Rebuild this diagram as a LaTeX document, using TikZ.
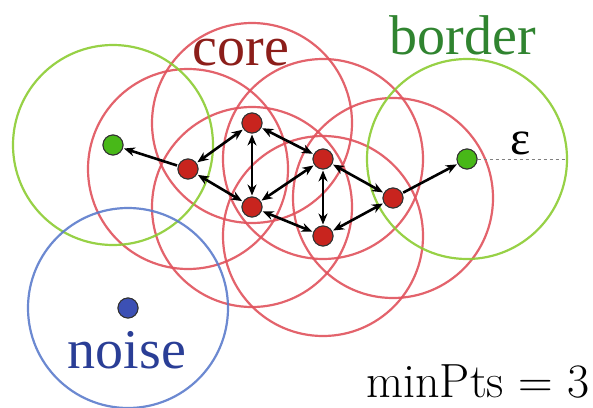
\documentclass[tikz,border=0pt]{standalone}
\usepackage{fontspec}
\newfontfamily\timesfont{Liberation Serif}
\usetikzlibrary{positioning,arrows.meta}
\definecolor{ringred}{RGB}{224,82,92}
\definecolor{ringgreen}{RGB}{140,204,50}
\definecolor{ringblue}{RGB}{92,124,204}
\definecolor{corered}{RGB}{200,36,30}
\definecolor{bordergreen}{RGB}{72,184,24}
\definecolor{noiseblue}{RGB}{60,80,180}
\definecolor{coretext}{RGB}{140,30,26}
\definecolor{bordertext}{RGB}{48,132,48}
\definecolor{noisetext}{RGB}{42,62,150}
\tikzset{
  corept/.style={circle, draw=black!80, line width=1pt, fill=corered, minimum size=20pt, inner sep=0pt},
  borderpt/.style={circle, draw=black!80, line width=1pt, fill=bordergreen, minimum size=20pt, inner sep=0pt},
  noisept/.style={circle, draw=black!80, line width=1pt, fill=noiseblue, minimum size=20pt, inner sep=0pt},
  ring/.style={line width=2.2pt, draw opacity=0.9},
  reach/.style={{Stealth[length=11pt,width=9pt]}-{Stealth[length=11pt,width=9pt]}, line width=2.6pt, shorten <=1pt, shorten >=1pt},
  reachone/.style={-{Stealth[length=11pt,width=9pt]}, line width=2.6pt, shorten <=1pt, shorten >=1pt},
  bigword/.style={font=\timesfont\fontsize{56}{56}\selectfont, anchor=base, inner sep=0pt}
}
\begin{document}
\begin{tikzpicture}[x=1pt, y=-1pt]
  \useasboundingbox (0,0) rectangle (593,407);
  % points
  \node[borderpt] (bl) at (113,145) {};
  \node[corept] (ca) at (188,169) {};
  \node[corept] (cb) at (252,123) {};
  \node[corept] (cc) at (252,207) {};
  \node[corept] (cd) at (323,159) {};
  \node[corept] (ce) at (323,236) {};
  \node[corept] (cf) at (393,198) {};
  \node[borderpt] (br) at (467,159) {};
  \node[noisept] (nz) at (128,308) {};
  \coordinate (epsend) at (567,159);
  % eps-neighbourhoods
  \foreach \p in {ca,cb,cc,cd,ce,cf}
    \draw[ring, ringred] (\p) circle[radius=100pt];
  \draw[ring, ringgreen] (bl) circle[radius=100pt];
  \draw[ring, ringgreen] (br) circle[radius=100pt];
  \draw[ring, ringblue] (nz) circle[radius=100pt];
  \draw[dashed, gray, line width=1pt] (br) -- (epsend);
  % reachability
  \draw[reachone] (ca) -- (bl);
  \draw[reach] (ca) -- (cb);
  \draw[reach] (ca) -- (cc);
  \draw[reach] (cb) -- (cc);
  \draw[reach] (cb) -- (cd);
  \draw[reach] (cc) -- (cd);
  \draw[reach] (cd) -- (ce);
  \draw[reach] (cc) -- (ce);
  \draw[reach] (cd) -- (cf);
  \draw[reach] (ce) -- (cf);
  \draw[reachone] (cf) -- (br);
  % redraw points on top
  \foreach \p in {ca,cb,cc,cd,ce,cf}
    \node[corept] at (\p) {};
  \node[borderpt] at (bl) {};
  \node[borderpt] at (br) {};
  \node[noisept] at (nz) {};
  % labels
  \node[bigword, text=coretext] (corelbl) at (241,65) {core};
  \node[bigword, text=bordertext] (borderlbl) at (463,54) {border};
  \node[bigword, text=noisetext] (noiselbl) at (127,368) {noise};
  \node[font=\timesfont\fontsize{48}{48}\selectfont, anchor=base, inner sep=0pt] (epslbl) at (521,154) {ε};
  \node[font=\fontsize{48}{48}\selectfont, anchor=base east, inner sep=0pt] (minpts) at (590,397) {minPts = 3};
\end{tikzpicture}
\end{document}
